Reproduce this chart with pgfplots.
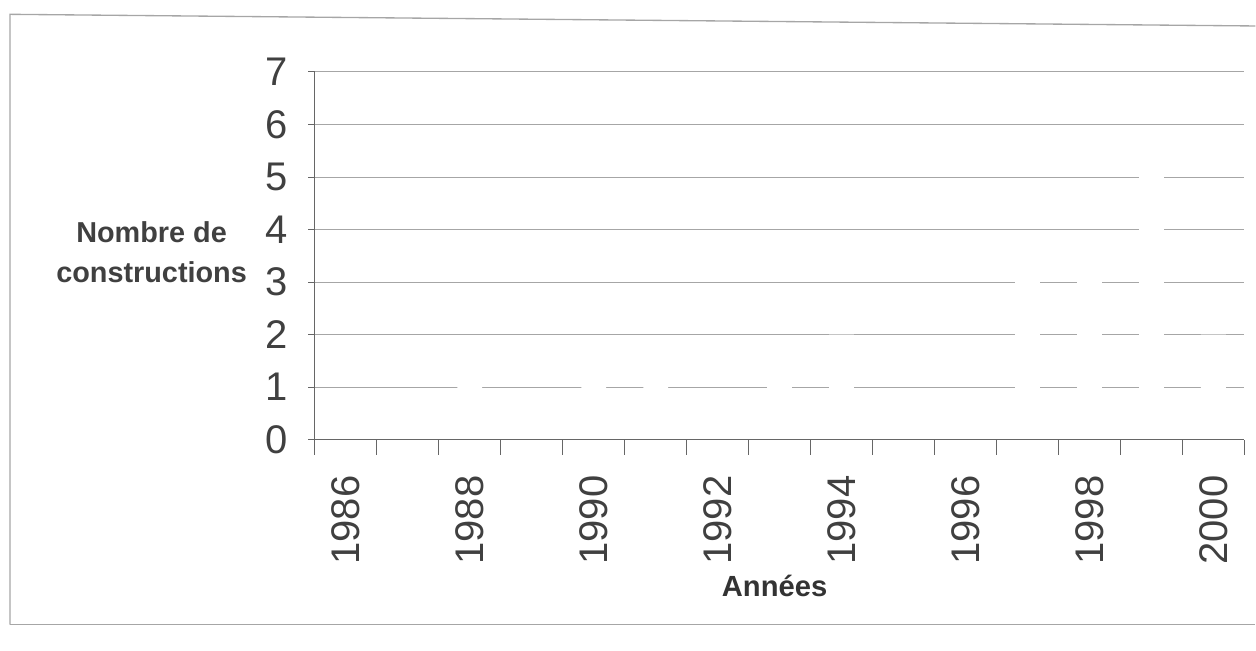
\documentclass[border=0pt]{standalone}
\usepackage{pgfplots}
\pgfplotsset{compat=1.18}
\usepackage{fontspec}
\setmainfont{Liberation Sans}
\begin{document}
\begin{tikzpicture}[x=1pt,y=1pt]
\path (0,0) rectangle (753.6,390.6);
\draw[gray!70, line width=0.8pt] (6,15.6) -- (6,382) -- (753.6,375);
\draw[gray!70, line width=0.8pt] (6,15.6) -- (753.6,15.6);
\begin{axis}[
  at={(189pt,126.6pt)}, anchor=south west,
  scale only axis, width=558pt, height=220.8pt,
  xmin=-0.5, xmax=14.5, ymin=0, ymax=7,
  axis lines=left, axis line style={-, gray!80!black, line width=0.6pt},
  ybar, bar width=0.4,
  ytick={0,...,7}, ymajorgrids, grid style={gray!70, line width=0.6pt},
  xtick={0,2,...,14},
  xticklabels={1986,1988,1990,1992,1994,1996,1998,2000},
  major x tick style={draw=none},
  minor xtick={-0.5,0.5,...,14.5},
  minor x tick style={gray!80!black, line width=0.6pt},
  tick align=outside, minor tick length=9pt, major tick length=4pt,
  y tick style={gray!80!black, line width=0.6pt},
  /pgf/number format/assume math mode=true,
  tick label style={font=\fontsize{24}{28}\selectfont, text=black!75},
  x tick label style={rotate=90, anchor=east, xshift=-14pt},
  y tick label style={xshift=-9pt},
  clip=false,
]
\addplot[fill=white, draw=none] coordinates {
(0,0) (1,0) (2,1) (3,0) (4,1) (5,1) (6,0) (7,1) (8,2) (9,0) (10,0) (11,3) (12,3) (13,5) (14,2)};
\draw[gray!80!black, line width=0.6pt] (rel axis cs:0,0) -- (rel axis cs:1,0);
\end{axis}
\node[font=\bfseries\fontsize{17.3}{24}\selectfont, align=center, text=black!75] at (91,239.4) {Nombre de\\constructions};
\node[font=\bfseries\fontsize{17.5}{22}\selectfont, text=black!80] at (465,39) {Années};
\end{tikzpicture}
\end{document}
